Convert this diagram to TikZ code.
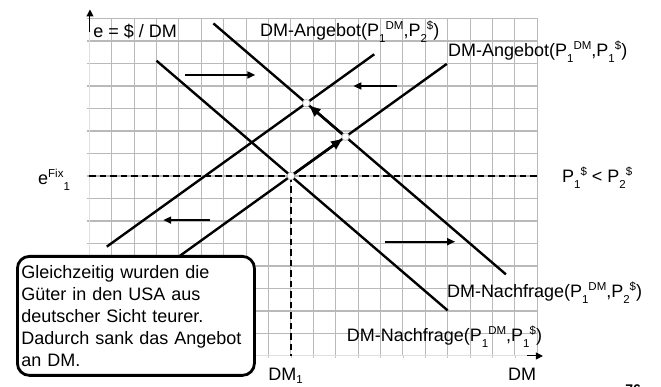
\documentclass[tikz,border=0pt]{standalone}
\usepackage{fontspec}
\setmainfont{Liberation Sans}
\usetikzlibrary{arrows.meta}

\newcommand{\lowx}[1]{\raisebox{-6pt}{\fontsize{11.5pt}{11.5pt}\selectfont #1}}
\newcommand{\lowerx}[1]{\raisebox{-2.5pt}{\fontsize{11.5pt}{11.5pt}\selectfont #1}}
\newcommand{\highx}[1]{\raisebox{7pt}{\fontsize{11.5pt}{11.5pt}\selectfont #1}}

\begin{document}
\begin{tikzpicture}[x=22.4pt,y=22.5pt,
  gridline/.style={draw=gray!55, line width=1.1pt},
  axisline/.style={draw=gray!25, line width=1pt},
  tickline/.style={draw=gray!45, line width=0.8pt},
  curve/.style={line width=2.4pt},
  shiftarrow/.style={line width=1.8pt, -{Triangle[length=8pt,width=7pt]}},
  movearrow/.style={line width=2.6pt, -{Triangle[length=11pt,width=9pt]}},
  axisarrow/.style={line width=1pt, -{Triangle[length=7pt,width=7pt]}},
  guide/.style={line width=1.8pt, dash pattern=on 6.5pt off 4pt},
  eqpoint/.style={circle, fill=white, draw=gray!60, line width=0.6pt, inner sep=0pt, minimum size=7.5pt},
  lbl/.style={font=\fontsize{18pt}{21.9pt}\selectfont, inner sep=0pt},
  note/.style={draw=black, line width=2.8pt, rounded corners=12pt, fill=white,
    align=left, text width=229pt, inner xsep=4pt, inner ysep=4pt,
    minimum height=119pt, font=\fontsize{18pt}{21.9pt}\selectfont}
]
\useasboundingbox (-3.987,-1.378) rectangle (25.522,15.822);

% grid
\foreach \i in {1,...,20} \draw[gridline] (\i,0) -- (\i,15);
\foreach \j in {1,...,15} \draw[gridline] (-0.12,\j) -- (20,\j);
\draw[axisline] (0,0) -- (20,0);
\draw[axisline] (0,0) -- (0,14.4);
\foreach \i in {1,...,20} \draw[tickline] (\i,0) -- (\i,-0.1);

% axes arrows
\coordinate (ybase) at (0.03,14.4);
\coordinate (ytip) at (0.03,15.4);
\coordinate (xbase) at (19.55,0);
\coordinate (xtip) at (20.25,0);
\draw[axisarrow] (ybase) -- (ytip);
\draw[axisarrow] (xbase) -- (xtip);

% curve end points
\coordinate (D1a) at (3,13.124);
\coordinate (D1b) at (16,2.022);
\coordinate (D2a) at (5.54,14.78);
\coordinate (D2b) at (18.6,3.627);
\coordinate (S1a) at (4.05,4.456);
\coordinate (S1b) at (15.96,12.983);
\coordinate (S2a) at (0.78,4.86);
\coordinate (S2b) at (12.72,13.409);
\coordinate (E1) at (9,8);
\coordinate (E2) at (intersection of S1a--S1b and D2a--D2b);
\coordinate (E3) at (intersection of S2a--S2b and D2a--D2b);

% dashed guides
\coordinate (yfix) at (0,8);
\coordinate (yfixend) at (20,8);
\coordinate (dmone) at (9,0);
\draw[guide] (yfix) -- (yfixend);
\draw[guide] (E1) -- (dmone);

% curves
\draw[curve] (D1a) -- (D1b);
\draw[curve] (D2a) -- (D2b);
\draw[curve] (S1a) -- (S1b);
\draw[curve] (S2a) -- (S2b);

% movement arrows
\draw[movearrow, shorten <=3pt, shorten >=4pt] (E1) -- (E2);
\draw[movearrow, shorten <=3pt, shorten >=4pt] (E2) -- (E3);

% shift arrows
\coordinate (h1a) at (4.28,12.49);  \coordinate (h1b) at (7.41,12.49);
\coordinate (h2a) at (13.72,12.0);  \coordinate (h2b) at (11.79,12.0);
\coordinate (h3a) at (5.39,6.04);   \coordinate (h3b) at (3.30,6.04);
\coordinate (h4a) at (13.2,5.08);   \coordinate (h4b) at (16.33,5.08);
\draw[shiftarrow] (h1a) -- (h1b);
\draw[shiftarrow] (h2a) -- (h2b);
\draw[shiftarrow] (h3a) -- (h3b);
\draw[shiftarrow] (h4a) -- (h4b);

% equilibrium points
\node[eqpoint] (p1) at (E1) {};
\node[eqpoint] (p2) at (E2) {};
\node[eqpoint] (p3) at (E3) {};

% labels
\node[lbl, anchor=base west] (ylabel) at (0.17,14.17) {e = \$ / DM};
\node[lbl, anchor=base west] (s2label) at (7.62,14.18) {DM-Angebot(P\lowx{1}\highx{DM},P\lowx{2}\highx{\$})};
\node[lbl, anchor=base west] (s1label) at (16.01,13.31) {DM-Angebot(P\lowx{1}\highx{DM},P\lowx{1}\highx{\$})};
\node[lbl, anchor=base west] (efix) at (-2.29,7.64) {e\highx{Fix}\lowx{1}};
\node[lbl, anchor=base west] (cond) at (21.10,7.69) {P\lowx{1}\highx{\$} < P\lowx{2}\highx{\$}};
\node[lbl, anchor=base west] (d2label) at (15.96,2.62) {DM-Nachfrage(P\lowx{1}\highx{DM},P\lowx{2}\highx{\$})};
\node[lbl, anchor=base west] (d1label) at (11.49,0.64) {DM-Nachfrage(P\lowx{1}\highx{DM},P\lowx{1}\highx{\$})};
\node[lbl, anchor=base west] (xlabel) at (18.69,-1.07) {DM};
\node[lbl, anchor=base west] (dm1label) at (7.98,-1.1) {DM\lowerx{1}};
\node[font=\bfseries\fontsize{14pt}{14pt}\selectfont, anchor=north west, inner sep=0pt] (pagenum) at (23.92,-1.25) {76};

% note box
\node[note, anchor=north west] (notebox) at (-3.272,4.489)
  {Gleichzeitig wurden die\\
   Güter in den USA aus\\
   deutscher Sicht teurer.\\
   Dadurch sank das Angebot\\
   an DM.};
\end{tikzpicture}
\end{document}
